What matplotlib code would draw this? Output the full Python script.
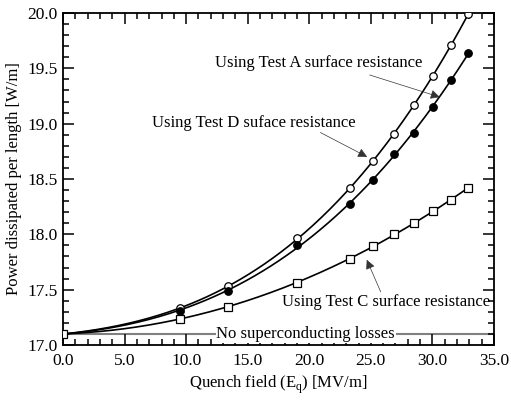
import numpy as np
import matplotlib.pyplot as plt
from matplotlib.ticker import MultipleLocator, FormatStrFormatter

plt.rcParams['font.family'] = ['Liberation Serif', 'DejaVu Serif']
plt.rcParams['mathtext.fontset'] = 'custom'
plt.rcParams['mathtext.rm'] = 'Liberation Serif'
plt.rcParams['font.size'] = 12

# quench field [MV/m] and dissipated power [W/m]
field_a = [0.0, 9.5, 13.4, 19.0, 23.3, 25.2, 26.9, 28.5, 30.05, 31.5, 32.9]
power_a = [17.10, 17.33, 17.53, 17.965, 18.42, 18.66, 18.91, 19.17, 19.43, 19.71, 19.99]

field_d = [0.0, 9.5, 13.4, 19.0, 23.3, 25.2, 26.9, 28.5, 30.05, 31.5, 32.9]
power_d = [17.10, 17.31, 17.49, 17.90, 18.275, 18.49, 18.73, 18.92, 19.15, 19.39, 19.64]

field_c = [0.0, 9.5, 13.4, 19.0, 23.3, 25.2, 26.9, 28.5, 30.05, 31.5, 32.9]
power_c = [17.10, 17.236, 17.347, 17.564, 17.78, 17.89, 18.00, 18.10, 18.21, 18.31, 18.42]

normal_losses = 17.1

fig = plt.figure(figsize=(5.11, 4.01), dpi=100)
ax = fig.add_axes([0.1233, 0.1397, 0.8434, 0.8279])

def smooth(x, y):
    c = np.polyfit(x, y, 3)
    xs = np.linspace(min(x), max(x), 200)
    return xs, np.polyval(c, xs)

# gray reference line, broken by its label
ax.axhline(normal_losses, color='#808080', lw=1.5, zorder=1)
ax.text(12.45, normal_losses, 'No superconducting losses', va='center', ha='left',
        bbox=dict(fc='white', ec='none', pad=0.5), zorder=2)

for x, y, mk, fc in [(field_a, power_a, 'o', 'white'),
                     (field_d, power_d, 'o', 'black'),
                     (field_c, power_c, 's', 'white')]:
    xs, ys = smooth(x, y)
    ax.plot(xs, ys, color='black', lw=1.2, zorder=3)
    ax.plot(x, y, ls='none', marker=mk, ms=5.4,
            mfc=fc, mec='black', mew=0.9, zorder=4)

arrow = dict(arrowstyle='-|>', color='#333333', lw=0.5, mutation_scale=14,
             shrinkA=0, shrinkB=0)
ax.text(12.35, 19.55, 'Using Test A surface resistance', va='center', ha='left')
ax.annotate('', xy=(30.6, 19.24), xytext=(24.9, 19.44), arrowprops=arrow)
ax.text(7.2, 19.01, 'Using Test D suface resistance', va='center', ha='left')
ax.annotate('', xy=(24.7, 18.70), xytext=(20.9, 18.92), arrowprops=arrow)
ax.text(17.8, 17.39, 'Using Test C surface resistance', va='center', ha='left')
ax.annotate('', xy=(24.67, 17.77), xytext=(25.8, 17.48), arrowprops=arrow)

ax.set_xlim(0, 35)
ax.set_ylim(17, 20)
ax.xaxis.set_major_locator(MultipleLocator(5))
ax.xaxis.set_minor_locator(MultipleLocator(1))
ax.yaxis.set_major_locator(MultipleLocator(0.5))
ax.yaxis.set_minor_locator(MultipleLocator(0.1))
ax.xaxis.set_major_formatter(FormatStrFormatter('%.1f'))
ax.yaxis.set_major_formatter(FormatStrFormatter('%.1f'))
ax.tick_params(which='both', direction='in', top=True, right=True, width=1.1)
ax.tick_params(which='major', length=8, labelsize=12.5)
ax.tick_params(axis='x', which='major', pad=6)
ax.tick_params(axis='y', which='major', pad=4)
ax.tick_params(which='minor', length=4)
for s in ax.spines.values():
    s.set_linewidth(1.3)

ax.set_xlabel('Quench field (E$_\\mathrm{q}$) [MV/m]', labelpad=3)
ax.set_ylabel('Power dissipated per length [W/m]', labelpad=4)

fig.savefig('out.png', dpi=100)
